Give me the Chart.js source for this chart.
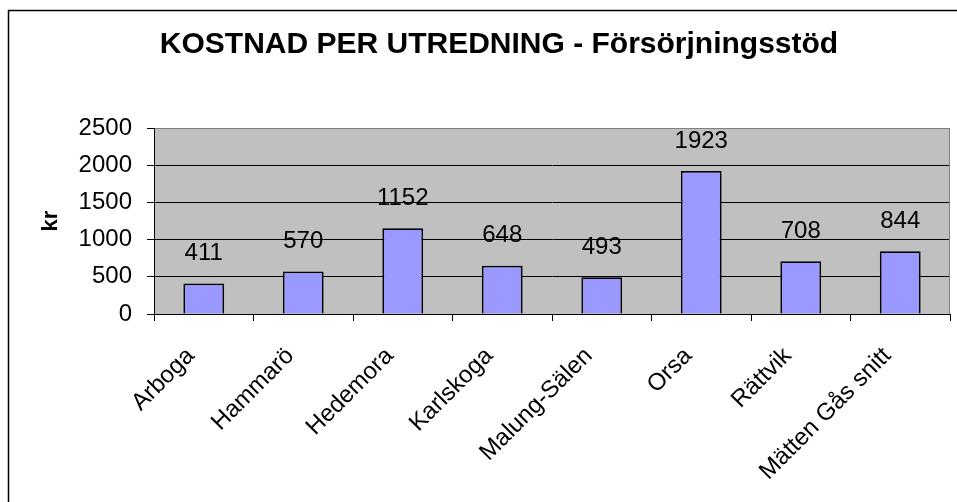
<!DOCTYPE html>
<html>
<head>
<meta charset="utf-8">
<script src="https://cdn.jsdelivr.net/npm/chart.js@4/dist/chart.umd.min.js"></script>
<style>
  html, body { margin: 0; padding: 0; background: #ffffff; }
  #wrap { width: 957px; height: 502px; position: relative; }
</style>
</head>
<body>
<div id="wrap"><canvas id="c" width="957" height="502"></canvas></div>
<script>
const categories = ["Arboga", "Hammarö", "Hedemora", "Karlskoga", "Malung-Sälen", "Orsa", "Rättvik", "Mätten Gås snitt"];
const values = [411, 570, 1152, 648, 493, 1923, 708, 844];
const yTicks = [0, 500, 1000, 1500, 2000, 2500];
const chartTitle = "KOSTNAD PER UTREDNING - Försörjningsstöd";
const yAxisTitle = "kr";

const FONT = "'Liberation Sans', Arial, sans-serif";

const framePlugin = {
  id: 'frame',
  beforeDraw(chart) {
    const ctx = chart.ctx;
    ctx.save();
    ctx.fillStyle = '#ffffff';
    ctx.fillRect(0, 0, chart.width, chart.height);
    ctx.strokeStyle = '#000000';
    ctx.lineWidth = 1.5;
    ctx.beginPath();
    ctx.moveTo(8.5, chart.height + 5);
    ctx.lineTo(8.5, 10.5);
    ctx.lineTo(chart.width + 5, 10.5);
    ctx.stroke();
    const a = chart.chartArea;
    ctx.fillStyle = '#C0C0C0';
    ctx.fillRect(a.left, a.top, a.right - a.left, a.bottom - a.top);
    ctx.restore();
  },
  afterDatasetsDraw(chart) {
    const ctx = chart.ctx;
    const a = chart.chartArea;
    ctx.save();
    ctx.strokeStyle = '#808080';
    ctx.lineWidth = 1;
    ctx.beginPath();
    ctx.moveTo(a.left + 1, a.top + 0.5);
    ctx.lineTo(a.right - 0.5, a.top + 0.5);
    ctx.lineTo(a.right - 0.5, a.bottom);
    ctx.stroke();
    ctx.restore();
  }
};

const labelPlugin = {
  id: 'valueLabels',
  afterDatasetsDraw(chart) {
    const ctx = chart.ctx;
    const meta = chart.getDatasetMeta(0);
    ctx.save();
    ctx.font = "24px " + FONT;
    ctx.fillStyle = '#000000';
    ctx.textAlign = 'center';
    ctx.textBaseline = 'middle';
    meta.data.forEach((bar, i) => {
      ctx.fillText(String(values[i]), bar.x, bar.y - 30);
    });
    ctx.restore();
  }
};

new Chart(document.getElementById('c'), {
  type: 'bar',
  data: {
    labels: categories,
    datasets: [{
      data: values,
      backgroundColor: '#9999FF',
      borderColor: '#000000',
      borderWidth: 1.75,
      barPercentage: 0.41,
      categoryPercentage: 1.0
    }]
  },
  options: {
    responsive: false,
    animation: false,
    devicePixelRatio: 1,
    layout: { padding: { left: 48, right: 7, top: 0, bottom: 0 } },
    plugins: {
      legend: { display: false },
      tooltip: { enabled: false },
      title: {
        display: true,
        text: chartTitle,
        color: '#000000',
        font: { family: FONT, size: 30, weight: 'bold', lineHeight: 1.2 },
        padding: { top: 27, bottom: 65 }
      }
    },
    scales: {
      x: {
        grid: {
          display: true,
          drawOnChartArea: false,
          drawTicks: true,
          tickLength: 7,
          color: '#000000',
          offset: true
        },
        border: { display: true, color: '#000000', width: 1 },
        ticks: {
          color: '#000000',
          font: { family: FONT, size: 24 },
          maxRotation: 45,
          minRotation: 45,
          padding: 21,
          labelOffset: -13,
          autoSkip: false
        },
        afterFit(scale) { scale.height = 188; }
      },
      y: {
        min: 0,
        max: 2500,
        afterBuildTicks(scale) { scale.ticks = yTicks.map(v => ({ value: v })); },
        grid: {
          color: (c) => (c.tick && c.tick.value === 2500 ? '#808080' : '#000000'),
          tickColor: '#000000',
          lineWidth: 1,
          drawTicks: true,
          tickLength: 7
        },
        border: { display: true, color: '#000000', width: 1 },
        ticks: {
          color: '#000000',
          font: { family: FONT, size: 24 },
          padding: 15,
          callback: (v) => String(v)
        },
        title: {
          display: true,
          text: yAxisTitle,
          color: '#000000',
          font: { family: FONT, size: 22, weight: 'bold', lineHeight: 1.2 },
          padding: { top: -10, bottom: 0 }
        },
        afterFit(scale) { scale.width = 106; }
      }
    }
  },
  plugins: [framePlugin, labelPlugin]
});
</script>
</body>
</html>
